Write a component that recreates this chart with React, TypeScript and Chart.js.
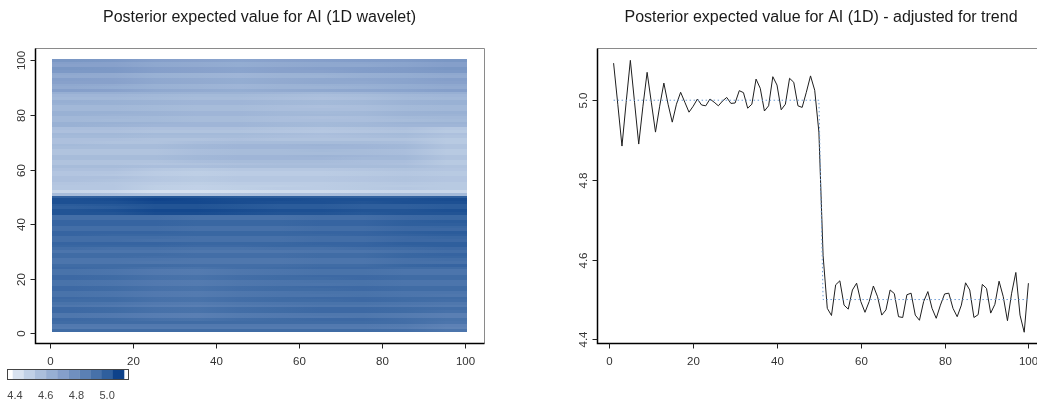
import React, { useEffect, useRef } from "react";
import { Chart, registerables } from "chart.js";

Chart.register(...registerables);

// ---------- text ----------
const titleLeft = "Posterior expected value for AI (1D wavelet)";
const titleRight = "Posterior expected value for AI (1D) - adjusted for trend";

// ---------- left panel (heatmap) ----------
const heatXTicks = [0, 20, 40, 60, 80, 100];
const heatYTicks = [0, 20, 40, 60, 80, 100];
const heatColumnCenters = [5.5, 15.5, 25.5, 35.5, 45.5, 55.5, 65.5, 75.5, 85.5, 95.5];
// first row = row 100 (top), last row = row 1 (bottom)
const heatRowsTopDown: number[][] = [
  [4.75, 4.74, 4.71, 4.70, 4.69, 4.70, 4.71, 4.72, 4.73, 4.75],
  [4.71, 4.70, 4.67, 4.66, 4.65, 4.66, 4.67, 4.68, 4.69, 4.71],
  [4.70, 4.70, 4.67, 4.66, 4.65, 4.66, 4.67, 4.67, 4.69, 4.71],
  [4.75, 4.74, 4.71, 4.70, 4.69, 4.70, 4.71, 4.72, 4.73, 4.75],
  [4.74, 4.74, 4.71, 4.70, 4.69, 4.70, 4.70, 4.72, 4.73, 4.74],
  [4.67, 4.66, 4.63, 4.62, 4.61, 4.62, 4.63, 4.64, 4.65, 4.67],
  [4.66, 4.66, 4.63, 4.62, 4.61, 4.62, 4.62, 4.64, 4.65, 4.66],
  [4.71, 4.70, 4.67, 4.66, 4.65, 4.66, 4.67, 4.68, 4.69, 4.71],
  [4.70, 4.70, 4.67, 4.66, 4.65, 4.66, 4.67, 4.67, 4.69, 4.70],
  [4.67, 4.66, 4.63, 4.62, 4.61, 4.62, 4.63, 4.64, 4.65, 4.67],
  [4.66, 4.65, 4.63, 4.62, 4.61, 4.62, 4.62, 4.63, 4.65, 4.66],
  [4.71, 4.70, 4.67, 4.66, 4.65, 4.66, 4.67, 4.68, 4.69, 4.71],
  [4.64, 4.64, 4.63, 4.62, 4.62, 4.61, 4.60, 4.61, 4.63, 4.64],
  [4.61, 4.61, 4.60, 4.59, 4.59, 4.58, 4.57, 4.58, 4.60, 4.61],
  [4.60, 4.60, 4.59, 4.58, 4.58, 4.57, 4.56, 4.57, 4.59, 4.60],
  [4.64, 4.63, 4.62, 4.61, 4.61, 4.60, 4.59, 4.60, 4.62, 4.63],
  [4.63, 4.63, 4.62, 4.61, 4.61, 4.60, 4.59, 4.60, 4.62, 4.63],
  [4.60, 4.60, 4.59, 4.58, 4.58, 4.57, 4.56, 4.57, 4.59, 4.60],
  [4.60, 4.60, 4.59, 4.58, 4.58, 4.57, 4.57, 4.57, 4.59, 4.60],
  [4.63, 4.63, 4.62, 4.61, 4.61, 4.60, 4.59, 4.60, 4.62, 4.63],
  [4.63, 4.62, 4.62, 4.61, 4.61, 4.60, 4.60, 4.60, 4.62, 4.62],
  [4.60, 4.60, 4.59, 4.58, 4.58, 4.57, 4.56, 4.57, 4.59, 4.60],
  [4.60, 4.59, 4.59, 4.58, 4.58, 4.57, 4.57, 4.57, 4.58, 4.59],
  [4.63, 4.63, 4.62, 4.61, 4.61, 4.60, 4.59, 4.60, 4.62, 4.62],
  [4.63, 4.62, 4.61, 4.61, 4.61, 4.60, 4.59, 4.60, 4.61, 4.61],
  [4.57, 4.57, 4.56, 4.56, 4.56, 4.55, 4.54, 4.55, 4.56, 4.53],
  [4.56, 4.56, 4.55, 4.55, 4.55, 4.54, 4.53, 4.54, 4.55, 4.52],
  [4.60, 4.60, 4.59, 4.59, 4.59, 4.58, 4.57, 4.58, 4.59, 4.56],
  [4.59, 4.59, 4.58, 4.58, 4.58, 4.57, 4.56, 4.57, 4.58, 4.55],
  [4.56, 4.56, 4.55, 4.55, 4.56, 4.55, 4.55, 4.55, 4.55, 4.52],
  [4.56, 4.55, 4.55, 4.57, 4.58, 4.58, 4.58, 4.58, 4.57, 4.52],
  [4.59, 4.58, 4.58, 4.60, 4.61, 4.61, 4.62, 4.61, 4.60, 4.55],
  [4.58, 4.58, 4.58, 4.60, 4.61, 4.61, 4.61, 4.61, 4.60, 4.55],
  [4.55, 4.55, 4.55, 4.57, 4.58, 4.58, 4.59, 4.58, 4.57, 4.52],
  [4.55, 4.55, 4.55, 4.57, 4.58, 4.58, 4.58, 4.58, 4.57, 4.52],
  [4.58, 4.58, 4.58, 4.60, 4.61, 4.61, 4.62, 4.61, 4.60, 4.55],
  [4.58, 4.58, 4.58, 4.60, 4.61, 4.61, 4.61, 4.60, 4.60, 4.55],
  [4.55, 4.55, 4.55, 4.57, 4.58, 4.58, 4.58, 4.57, 4.57, 4.52],
  [4.55, 4.55, 4.54, 4.55, 4.56, 4.57, 4.57, 4.57, 4.56, 4.52],
  [4.58, 4.58, 4.57, 4.57, 4.58, 4.58, 4.58, 4.58, 4.58, 4.55],
  [4.56, 4.56, 4.53, 4.52, 4.53, 4.53, 4.53, 4.54, 4.55, 4.54],
  [4.54, 4.54, 4.51, 4.50, 4.51, 4.51, 4.51, 4.52, 4.53, 4.52],
  [4.54, 4.53, 4.51, 4.50, 4.51, 4.51, 4.51, 4.52, 4.53, 4.52],
  [4.56, 4.56, 4.53, 4.52, 4.53, 4.53, 4.53, 4.54, 4.55, 4.54],
  [4.56, 4.55, 4.53, 4.52, 4.53, 4.53, 4.53, 4.54, 4.55, 4.54],
  [4.54, 4.53, 4.51, 4.50, 4.51, 4.51, 4.51, 4.52, 4.53, 4.52],
  [4.53, 4.53, 4.50, 4.49, 4.50, 4.50, 4.51, 4.52, 4.52, 4.52],
  [4.53, 4.53, 4.50, 4.49, 4.50, 4.51, 4.51, 4.52, 4.53, 4.52],
  [4.47, 4.46, 4.43, 4.43, 4.44, 4.45, 4.45, 4.46, 4.47, 4.47],
  [4.58, 4.57, 4.55, 4.55, 4.56, 4.57, 4.57, 4.58, 4.59, 4.59],
  [4.99, 5.00, 5.02, 5.02, 5.01, 5.00, 5.00, 4.99, 4.99, 5.00],
  [5.04, 5.05, 5.07, 5.06, 5.05, 5.05, 5.04, 5.04, 5.04, 5.05],
  [5.04, 5.04, 5.06, 5.06, 5.05, 5.04, 5.04, 5.03, 5.04, 5.04],
  [5.01, 5.02, 5.03, 5.03, 5.02, 5.01, 5.01, 5.00, 5.00, 5.01],
  [5.00, 5.01, 5.03, 5.03, 5.02, 5.01, 5.01, 5.00, 5.00, 5.01],
  [5.03, 5.04, 5.06, 5.06, 5.05, 5.04, 5.04, 5.03, 5.03, 5.04],
  [5.03, 5.03, 5.05, 5.05, 5.04, 5.03, 5.03, 5.02, 5.03, 5.03],
  [4.94, 4.94, 4.94, 4.93, 4.93, 4.93, 4.94, 4.94, 4.96, 4.97],
  [4.94, 4.94, 4.94, 4.93, 4.93, 4.93, 4.94, 4.94, 4.96, 4.97],
  [4.98, 4.98, 4.98, 4.97, 4.97, 4.97, 4.98, 4.98, 5.00, 5.01],
  [4.98, 4.98, 4.98, 4.97, 4.97, 4.97, 4.98, 4.98, 5.00, 5.00],
  [4.94, 4.94, 4.94, 4.93, 4.93, 4.93, 4.94, 4.94, 4.96, 4.97],
  [4.94, 4.94, 4.94, 4.93, 4.93, 4.93, 4.94, 4.94, 4.96, 4.96],
  [4.98, 4.98, 4.98, 4.97, 4.97, 4.97, 4.98, 4.98, 5.00, 5.01],
  [4.98, 4.97, 4.97, 4.97, 4.97, 4.97, 4.97, 4.98, 4.99, 5.00],
  [4.94, 4.94, 4.94, 4.93, 4.93, 4.93, 4.94, 4.94, 4.96, 4.97],
  [4.94, 4.94, 4.93, 4.93, 4.93, 4.93, 4.94, 4.94, 4.96, 4.96],
  [4.98, 4.98, 4.98, 4.97, 4.97, 4.97, 4.98, 4.98, 5.00, 5.00],
  [4.97, 4.97, 4.97, 4.96, 4.96, 4.97, 4.97, 4.98, 4.99, 5.00],
  [4.94, 4.93, 4.93, 4.92, 4.92, 4.93, 4.93, 4.94, 4.95, 4.96],
  [4.91, 4.91, 4.91, 4.90, 4.90, 4.90, 4.91, 4.91, 4.93, 4.94],
  [4.95, 4.95, 4.95, 4.94, 4.94, 4.94, 4.95, 4.95, 4.97, 4.98],
  [4.95, 4.95, 4.94, 4.94, 4.94, 4.94, 4.95, 4.95, 4.97, 4.97],
  [4.91, 4.91, 4.91, 4.90, 4.90, 4.90, 4.91, 4.91, 4.93, 4.94],
  [4.91, 4.91, 4.90, 4.90, 4.90, 4.90, 4.91, 4.91, 4.93, 4.93],
  [4.95, 4.95, 4.95, 4.94, 4.94, 4.94, 4.95, 4.95, 4.97, 4.98],
  [4.96, 4.95, 4.93, 4.92, 4.94, 4.95, 4.96, 4.96, 4.95, 4.95],
  [4.92, 4.91, 4.89, 4.88, 4.90, 4.91, 4.92, 4.92, 4.91, 4.91],
  [4.92, 4.91, 4.89, 4.88, 4.90, 4.91, 4.92, 4.92, 4.91, 4.91],
  [4.96, 4.95, 4.93, 4.92, 4.94, 4.95, 4.96, 4.96, 4.95, 4.95],
  [4.96, 4.95, 4.93, 4.92, 4.94, 4.95, 4.95, 4.96, 4.95, 4.95],
  [4.92, 4.91, 4.89, 4.88, 4.90, 4.91, 4.92, 4.92, 4.91, 4.91],
  [4.92, 4.91, 4.89, 4.88, 4.90, 4.91, 4.91, 4.92, 4.91, 4.91],
  [4.96, 4.95, 4.93, 4.92, 4.94, 4.95, 4.96, 4.96, 4.95, 4.95],
  [4.96, 4.95, 4.93, 4.92, 4.94, 4.95, 4.95, 4.96, 4.95, 4.95],
  [4.92, 4.91, 4.89, 4.88, 4.90, 4.91, 4.92, 4.92, 4.91, 4.91],
  [4.92, 4.91, 4.89, 4.88, 4.90, 4.91, 4.91, 4.92, 4.91, 4.90],
  [4.96, 4.95, 4.93, 4.92, 4.94, 4.95, 4.96, 4.96, 4.95, 4.95],
  [4.95, 4.95, 4.93, 4.92, 4.94, 4.95, 4.95, 4.96, 4.95, 4.94],
  [4.92, 4.91, 4.89, 4.88, 4.90, 4.91, 4.92, 4.92, 4.91, 4.90],
  [4.90, 4.89, 4.87, 4.86, 4.88, 4.89, 4.90, 4.90, 4.89, 4.88],
  [4.96, 4.95, 4.93, 4.92, 4.94, 4.95, 4.96, 4.96, 4.95, 4.94],
  [4.96, 4.95, 4.93, 4.92, 4.94, 4.95, 4.96, 4.96, 4.95, 4.93],
  [4.90, 4.89, 4.87, 4.86, 4.88, 4.89, 4.90, 4.90, 4.88, 4.86],
  [4.90, 4.89, 4.87, 4.86, 4.88, 4.89, 4.89, 4.90, 4.88, 4.86],
  [4.96, 4.95, 4.93, 4.92, 4.94, 4.95, 4.96, 4.96, 4.94, 4.92],
  [4.95, 4.95, 4.95, 4.95, 4.95, 4.95, 4.95, 4.95, 4.94, 4.91],
  [4.89, 4.89, 4.89, 4.89, 4.89, 4.89, 4.89, 4.89, 4.88, 4.85],
  [4.88, 4.88, 4.88, 4.88, 4.88, 4.88, 4.88, 4.88, 4.87, 4.84],
  [4.95, 4.95, 4.95, 4.95, 4.95, 4.95, 4.95, 4.95, 4.94, 4.91],
];
const legendColours = [
  "#d8e2f0", "#c0d0e6", "#abbfdc", "#97afd3", "#859fca",
  "#7090bf", "#5b80b4", "#4771a9", "#2f5f9d", "#0e428a",
];
const legendMin = 4.385;
const legendMax = 5.11;
const legendTicks = [4.4, 4.6, 4.8, 5.0];

// ---------- right panel (line) ----------
const lineIndex = [
  1, 2, 3, 4, 5, 6, 7, 8, 9, 10, 11, 12, 13, 14, 15, 16, 17, 18, 19, 20,
  21, 22, 23, 24, 25, 26, 27, 28, 29, 30, 31, 32, 33, 34, 35, 36, 37, 38, 39, 40,
  41, 42, 43, 44, 45, 46, 47, 48, 49, 50, 51, 52, 53, 54, 55, 56, 57, 58, 59, 60,
  61, 62, 63, 64, 65, 66, 67, 68, 69, 70, 71, 72, 73, 74, 75, 76, 77, 78, 79, 80,
  81, 82, 83, 84, 85, 86, 87, 88, 89, 90, 91, 92, 93, 94, 95, 96, 97, 98, 99, 100,
];
const adjustedValues = [
  5.093, 4.99, 4.885, 4.995, 5.10, 4.995, 4.89, 4.985, 5.07, 4.995,
  4.92, 4.985, 5.043, 4.99, 4.945, 4.99, 5.02, 4.995, 4.97, 4.985,
  5.003, 4.988, 4.986, 5.003, 4.995, 4.986, 4.998, 5.007, 4.992, 4.993,
  5.024, 5.019, 4.98, 4.99, 5.053, 5.03, 4.973, 4.986, 5.059, 5.038,
  4.976, 4.99, 5.055, 5.045, 4.986, 4.982, 5.02, 5.061, 5.025, 4.92,
  4.61, 4.478, 4.46, 4.537, 4.547, 4.486, 4.476, 4.524, 4.541, 4.495,
  4.468, 4.495, 4.534, 4.507, 4.461, 4.474, 4.524, 4.515, 4.457, 4.455,
  4.512, 4.516, 4.461, 4.448, 4.495, 4.52, 4.478, 4.453, 4.486, 4.514,
  4.516, 4.478, 4.457, 4.486, 4.542, 4.524, 4.455, 4.462, 4.538, 4.528,
  4.466, 4.488, 4.546, 4.507, 4.447, 4.516, 4.568, 4.461, 4.418, 4.541,
];
const trueIndex = [1, 50, 51, 100];
const trueValues = [5.0, 5.0, 4.5, 4.5];
const lineXTicks = [0, 20, 40, 60, 80, 100];
const lineYTicks = [4.4, 4.6, 4.8, 5.0];

const FONT = '"Liberation Sans", Arial, sans-serif';

function hexToRgb(h: string) {
  const n = parseInt(h.slice(1), 16);
  return [(n >> 16) & 255, (n >> 8) & 255, n & 255];
}
const paletteRgb = legendColours.map(hexToRgb);

function colourFor(v: number) {
  const n = paletteRgb.length;
  let p = ((v - legendMin) / (legendMax - legendMin)) * n - 0.5;
  p = Math.max(0, Math.min(n - 1, p));
  const i = Math.min(n - 2, Math.floor(p));
  const f = p - i;
  const a = paletteRgb[i];
  const b = paletteRgb[i + 1];
  const c = a.map((x, k) => Math.round(x + (b[k] - x) * f));
  return `rgb(${c[0]},${c[1]},${c[2]})`;
}

function drawFrame(chart: any, cfg: any) {
  const { ctx, chartArea: a, scales } = chart;
  const xs = scales.x;
  const ys = scales.y;
  ctx.save();
  const L = Math.round(a.left) + 0.5;
  const T = Math.round(a.top) + 0.5;
  const R = Math.round(a.right) + 0.5;
  const B = Math.round(a.bottom) + 0.5;
  ctx.strokeStyle = "#8a8a8a";
  ctx.lineWidth = 1;
  ctx.beginPath();
  ctx.moveTo(L, B);
  ctx.lineTo(L, T);
  ctx.lineTo(R, T);
  ctx.lineTo(R, B);
  ctx.stroke();
  ctx.strokeStyle = "#000";
  ctx.lineWidth = 1.5;
  ctx.beginPath();
  ctx.moveTo(L, T);
  ctx.lineTo(L, B);
  ctx.lineTo(R, B);
  ctx.stroke();
  ctx.lineWidth = 1;
  ctx.strokeStyle = "#222";
  ctx.fillStyle = "#333";
  ctx.font = `11.5px ${FONT}`;
  ctx.textAlign = "center";
  ctx.textBaseline = "middle";
  cfg.xTicks.forEach((t: number) => {
    const px = Math.round(xs.getPixelForValue(t)) + 0.5;
    ctx.beginPath();
    ctx.moveTo(px, B);
    ctx.lineTo(px, B + 5);
    ctx.stroke();
    ctx.fillText(String(t), px, B + 18);
  });
  cfg.yTicks.forEach((t: number) => {
    const py = Math.round(ys.getPixelForValue(t)) + 0.5;
    ctx.beginPath();
    ctx.moveTo(L, py);
    ctx.lineTo(L - 5, py);
    ctx.stroke();
    ctx.save();
    ctx.translate(L - 14, py);
    ctx.rotate(-Math.PI / 2);
    ctx.fillText(cfg.yFmt(t), 0, 0);
    ctx.restore();
  });
  ctx.fillStyle = "#1a1a1a";
  ctx.font = `16px ${FONT}`;
  ctx.fillText(cfg.title, (a.left + a.right) / 2, 18);
  ctx.restore();
}

const heatPlugin = {
  id: "heatCells",
  beforeDatasetsDraw(chart: any) {
    const { ctx, scales } = chart;
    const xs = scales.x;
    const ys = scales.y;
    const x0 = xs.getPixelForValue(0.5);
    const x1 = xs.getPixelForValue(100.5);
    const nRows = heatRowsTopDown.length;
    ctx.save();
    heatRowsTopDown.forEach((row, i) => {
      const r = nRows - i;
      const top = Math.round(ys.getPixelForValue(r + 0.5));
      const bot = Math.round(ys.getPixelForValue(r - 0.5));
      const g = ctx.createLinearGradient(x0, 0, x1, 0);
      g.addColorStop(0, colourFor(row[0]));
      row.forEach((v, k) => {
        g.addColorStop((heatColumnCenters[k] - 0.5) / 100, colourFor(v));
      });
      g.addColorStop(1, colourFor(row[row.length - 1]));
      ctx.fillStyle = g;
      ctx.fillRect(Math.round(x0), top, Math.round(x1) - Math.round(x0), bot - top);
    });
    ctx.restore();
  },
  afterDraw(chart: any) {
    drawFrame(chart, {
      xTicks: heatXTicks,
      yTicks: heatYTicks,
      yFmt: (t: number) => String(t),
      title: titleLeft,
    });
    const { ctx } = chart;
    const barL = 12.7;
    const barR = 124;
    const top = 369;
    const h = 10;
    const toPx = (v: number) => barL + ((v - legendMin) / (legendMax - legendMin)) * (barR - barL);
    ctx.save();
    ctx.fillStyle = "#ffffff";
    ctx.fillRect(7.5, top, 5.2, h);
    ctx.fillRect(barR, top, 4.7, h);
    const n = legendColours.length;
    legendColours.forEach((c, k) => {
      const a = toPx(legendMin + ((legendMax - legendMin) * k) / n);
      const b = toPx(legendMin + ((legendMax - legendMin) * (k + 1)) / n);
      ctx.fillStyle = c;
      ctx.fillRect(a, top, b - a + 0.3, h);
    });
    ctx.strokeStyle = "#444";
    ctx.lineWidth = 1;
    ctx.strokeRect(7.5, top + 0.5, 121, h);
    ctx.fillStyle = "#444";
    ctx.font = `11px ${FONT}`;
    ctx.textAlign = "center";
    ctx.textBaseline = "middle";
    legendTicks.forEach((t) => ctx.fillText(t.toFixed(1), toPx(t), 396));
    ctx.restore();
  },
};

const linePlugin = {
  id: "lineFrame",
  afterDraw(chart: any) {
    drawFrame(chart, {
      xTicks: lineXTicks,
      yTicks: lineYTicks,
      yFmt: (t: number) => t.toFixed(1),
      title: titleRight,
    });
  },
};

export default function App() {
  const leftRef = useRef<HTMLCanvasElement>(null);
  const rightRef = useRef<HTMLCanvasElement>(null);

  useEffect(() => {
    document.body.style.margin = "0";
    document.body.style.background = "#ffffff";
    const left = new Chart(leftRef.current as HTMLCanvasElement, {
      type: "scatter",
      data: { datasets: [] },
      options: {
        responsive: false,
        animation: false,
        events: [],
        layout: { padding: { left: 35, top: 48, right: 34, bottom: 59 } },
        plugins: { legend: { display: false }, tooltip: { enabled: false }, title: { display: false } },
        scales: {
          x: { type: "linear", min: -3.5, max: 104.5, display: false },
          y: { type: "linear", min: -3.5, max: 104.5, display: false },
        },
      },
      plugins: [heatPlugin],
    } as any);

    const right = new Chart(rightRef.current as HTMLCanvasElement, {
      type: "line",
      data: {
        datasets: [
          {
            data: trueIndex.map((x, i) => ({ x, y: trueValues[i] })),
            borderColor: "#6c9bd4",
            borderWidth: 1,
            borderDash: [1.5, 2.5],
            pointRadius: 0,
            tension: 0,
            fill: false,
          },
          {
            data: lineIndex.map((x, i) => ({ x, y: adjustedValues[i] })),
            borderColor: "#1e1e1e",
            borderWidth: 1,
            pointRadius: 0,
            tension: 0,
            fill: false,
          },
        ],
      },
      options: {
        responsive: false,
        animation: false,
        events: [],
        layout: { padding: { left: 79, top: 48, right: 13, bottom: 59 } },
        plugins: { legend: { display: false }, tooltip: { enabled: false }, title: { display: false } },
        scales: {
          x: { type: "linear", min: -2.96, max: 103.96, display: false },
          y: { type: "linear", min: 4.391, max: 5.131, display: false },
        },
      },
      plugins: [linePlugin],
    } as any);

    return () => {
      left.destroy();
      right.destroy();
    };
  }, []);

  return (
    <div style={{ position: "relative", width: 1037, height: 402, overflow: "hidden", background: "#fff" }}>
      <canvas ref={leftRef} width={518} height={402} style={{ position: "absolute", left: 0, top: 0 }} />
      <canvas ref={rightRef} width={540} height={402} style={{ position: "absolute", left: 518, top: 0 }} />
    </div>
  );
}
